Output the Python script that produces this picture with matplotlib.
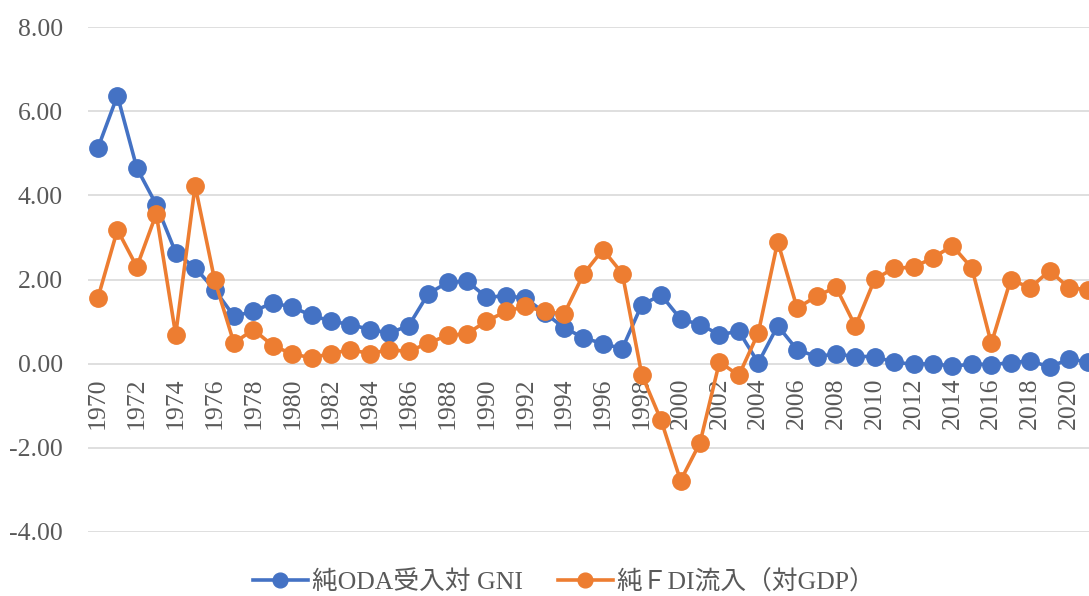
import matplotlib
matplotlib.use("Agg")
import matplotlib.pyplot as plt

years = list(range(1970, 2022))
oda = [5.13, 6.37, 4.65, 3.78, 2.64, 2.28, 1.76, 1.13, 1.24, 1.45,
       1.34, 1.15, 1.01, 0.93, 0.81, 0.73, 0.90, 1.66, 1.93, 1.96,
       1.58, 1.61, 1.56, 1.21, 0.85, 0.62, 0.47, 0.36, 1.40, 1.63,
       1.06, 0.93, 0.69, 0.77, 0.02, 0.90, 0.33, 0.17, 0.23, 0.17,
       0.17, 0.03, -0.01, 0.00, -0.06, -0.01, -0.02, 0.02, 0.07, -0.08,
       0.11, 0.04]
fdi = [1.57, 3.18, 2.30, 3.56, 0.69, 4.23, 2.00, 0.49, 0.81, 0.43,
       0.23, 0.14, 0.24, 0.33, 0.24, 0.33, 0.29, 0.49, 0.67, 0.71,
       1.01, 1.24, 1.36, 1.24, 1.18, 2.13, 2.71, 2.14, -0.26, -1.35,
       -2.78, -1.88, 0.04, -0.28, 0.73, 2.90, 1.32, 1.60, 1.82, 0.89,
       2.01, 2.27, 2.29, 2.52, 2.80, 2.27, 0.48, 2.00, 1.80, 2.21,
       1.80, 1.76]
xtick_years = list(range(1970, 2021, 2))
yticks = [-4, -2, 0, 2, 4, 6, 8]
labels = ["純ODA受入対 GNI", "純ＦDI流入（対GDP）"]

serif = ["Liberation Serif", "Noto Sans CJK JP", "DejaVu Sans"]
gray = "#595959"
fs = 18.5

fig = plt.figure(figsize=(10.89, 5.96), dpi=100)
ax = fig.add_axes([88/1089, 64/596, 1 - 88/1089, (532-27)/596])

ax.plot(years, oda, color="#4472C4", lw=2.6, marker="o", ms=12.5,
        label=labels[0], zorder=3)
ax.plot(years, fdi, color="#ED7D31", lw=2.6, marker="o", ms=12.5,
        label=labels[1], zorder=4)

ax.spines["bottom"].set_position(("data", 0))
for s in ["top", "right", "left", "bottom"]:
    ax.spines[s].set_visible(False)

ax.set_ylim(-4, 8)
ax.set_xlim(1969.485, 2021.03)
ax.set_yticks(yticks)
ax.set_yticklabels([f"{v:.2f}" for v in yticks], family=serif,
                   fontsize=fs, color=gray)
ax.set_xticks(xtick_years)
ax.set_xticklabels([str(y) for y in xtick_years], rotation=90,
                   family=serif, fontsize=fs, color=gray)
ax.tick_params(axis="x", length=0, pad=10)
ax.tick_params(axis="y", length=0, pad=18)
ax.grid(axis="y", color="#D9D9D9", lw=1.2)
ax.set_axisbelow(True)

fig.legend(loc="center", bbox_to_anchor=(0.518, 14/596), ncol=2,
           frameon=False, prop={"family": serif, "size": fs},
           handlelength=2.15, columnspacing=1.35, handletextpad=0.15,
           markerscale=0.85, labelcolor=gray, borderpad=0.2)

fig.savefig("out.png", dpi=100)
